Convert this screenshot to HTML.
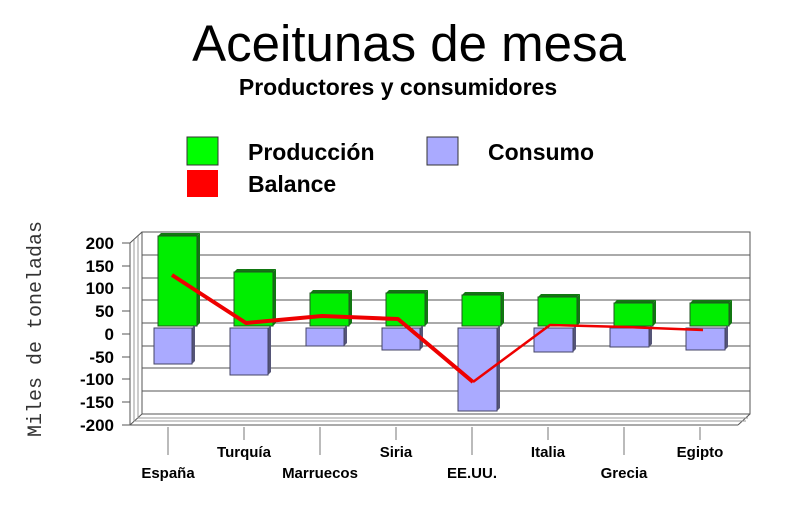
<!DOCTYPE html><html><head><style>body{margin:0;background:#fff}</style></head><body>
<svg width="800" height="512" xmlns="http://www.w3.org/2000/svg" font-family="Liberation Sans, sans-serif">
<text x="409" y="61" font-size="51" text-anchor="middle">Aceitunas de mesa</text>
<text x="398" y="95" font-size="23" font-weight="bold" text-anchor="middle">Productores y consumidores</text>
<rect x="187" y="137" width="31" height="28" fill="#00ff00" stroke="#333"/>
<text x="248" y="160" font-size="23" font-weight="bold">Producción</text>
<rect x="427" y="137" width="31" height="28" fill="#aaaaff" stroke="#333"/>
<text x="488" y="160" font-size="23" font-weight="bold">Consumo</text>
<rect x="187" y="170" width="31" height="27" fill="#ff0000"/>
<text x="248" y="192" font-size="23" font-weight="bold">Balance</text>
<text transform="translate(41,329) rotate(-90)" font-family="Liberation Mono, monospace" font-size="20" text-anchor="middle" fill="#333">Miles de toneladas</text>
<g stroke="#555" fill="none" stroke-width="1">
<rect x="142" y="232" width="608" height="182"/>
<line x1="130" y1="243" x2="130" y2="425"/>
<line x1="130" y1="425" x2="738" y2="425"/>
<line x1="738" y1="425" x2="750" y2="414"/>
<line x1="130" y1="243" x2="142" y2="232"/>
<line x1="130" y1="425" x2="142" y2="414"/>
<line x1="134" y1="421" x2="746" y2="421" stroke="#999"/>
<line x1="138" y1="418" x2="748" y2="418" stroke="#999"/>
<line x1="134" y1="240" x2="134" y2="421" stroke="#999"/>
<line x1="138" y1="236" x2="138" y2="418" stroke="#999"/>
<path d="M142 255H750M142 278H750M142 300H750M142 323H750M142 346H750M142 368H750M142 391H750"/>
<path d="M122 243H130M122 266H130M122 288H130M122 311H130M122 334H130M122 357H130M122 379H130M122 402H130M122 425H130"/>
<path d="M168 427V455M244 427V440M320 427V455M396 427V440M472 427V455M548 427V440M624 427V455M700 427V440" stroke="#777"/>
</g>
<g font-size="17" font-weight="bold" text-anchor="end">
<text x="114" y="249">200</text><text x="114" y="272">150</text><text x="114" y="294">100</text><text x="114" y="317">50</text><text x="114" y="340">0</text><text x="114" y="363">-50</text><text x="114" y="385">-100</text><text x="114" y="408">-150</text><text x="114" y="431">-200</text>
</g>
<g font-size="15" font-weight="bold" text-anchor="middle">
<text x="168" y="478">España</text><text x="244" y="457">Turquía</text><text x="320" y="478">Marruecos</text><text x="396" y="457">Siria</text><text x="472" y="478">EE.UU.</text><text x="548" y="457">Italia</text><text x="624" y="478">Grecia</text><text x="700" y="457">Egipto</text>
</g>
<g fill="#117711">
<polygon points="158,236 161,233 200,233 197,236"/><polygon points="197,236 200,233 200,323 197,326"/>
<polygon points="234,272 237,269 276,269 273,272"/><polygon points="273,272 276,269 276,323 273,326"/>
<polygon points="310,293 313,290 352,290 349,293"/><polygon points="349,293 352,290 352,323 349,326"/>
<polygon points="386,293 389,290 428,290 425,293"/><polygon points="425,293 428,290 428,323 425,326"/>
<polygon points="462,295 465,292 504,292 501,295"/><polygon points="501,295 504,292 504,323 501,326"/>
<polygon points="538,297 541,294 580,294 577,297"/><polygon points="577,297 580,294 580,323 577,326"/>
<polygon points="614,303 617,300 656,300 653,303"/><polygon points="653,303 656,300 656,323 653,326"/>
<polygon points="690,303 693,300 732,300 729,303"/><polygon points="729,303 732,300 732,323 729,326"/>
</g>
<g stroke="#225522" stroke-width="1" fill="#00ee00">
<rect x="158" y="236" width="39" height="90"/><rect x="234" y="272" width="39" height="54"/><rect x="310" y="293" width="39" height="33"/><rect x="386" y="293" width="39" height="33"/><rect x="462" y="295" width="39" height="31"/><rect x="538" y="297" width="39" height="29"/><rect x="614" y="303" width="39" height="23"/><rect x="690" y="303" width="39" height="23"/>
</g>
<g fill="#555577">
<polygon points="192,328 195,325 195,361 192,364"/><polygon points="268,328 271,325 271,372 268,375"/><polygon points="344,328 347,325 347,343 344,346"/><polygon points="420,328 423,325 423,347 420,350"/><polygon points="497,328 500,325 500,408 497,411"/><polygon points="573,328 576,325 576,349 573,352"/><polygon points="649,328 652,325 652,344 649,347"/><polygon points="725,328 728,325 728,347 725,350"/>
</g>
<g stroke="#444466" fill="#aaaaff">
<rect x="154" y="328" width="38" height="36"/><rect x="230" y="328" width="38" height="47"/><rect x="306" y="328" width="38" height="18"/><rect x="382" y="328" width="38" height="22"/><rect x="458" y="328" width="39" height="83"/><rect x="534" y="328" width="39" height="24"/><rect x="610" y="328" width="39" height="19"/><rect x="686" y="328" width="39" height="22"/>
</g>
<polyline points="172,275 246,323 322,316 398,319 473,382" fill="none" stroke="#e00" stroke-width="4" stroke-linejoin="round"/>
<polyline points="473,382 550,325 626,327 703,330" fill="none" stroke="#e00" stroke-width="2.5" stroke-linejoin="round"/>
</svg>
</body></html>
